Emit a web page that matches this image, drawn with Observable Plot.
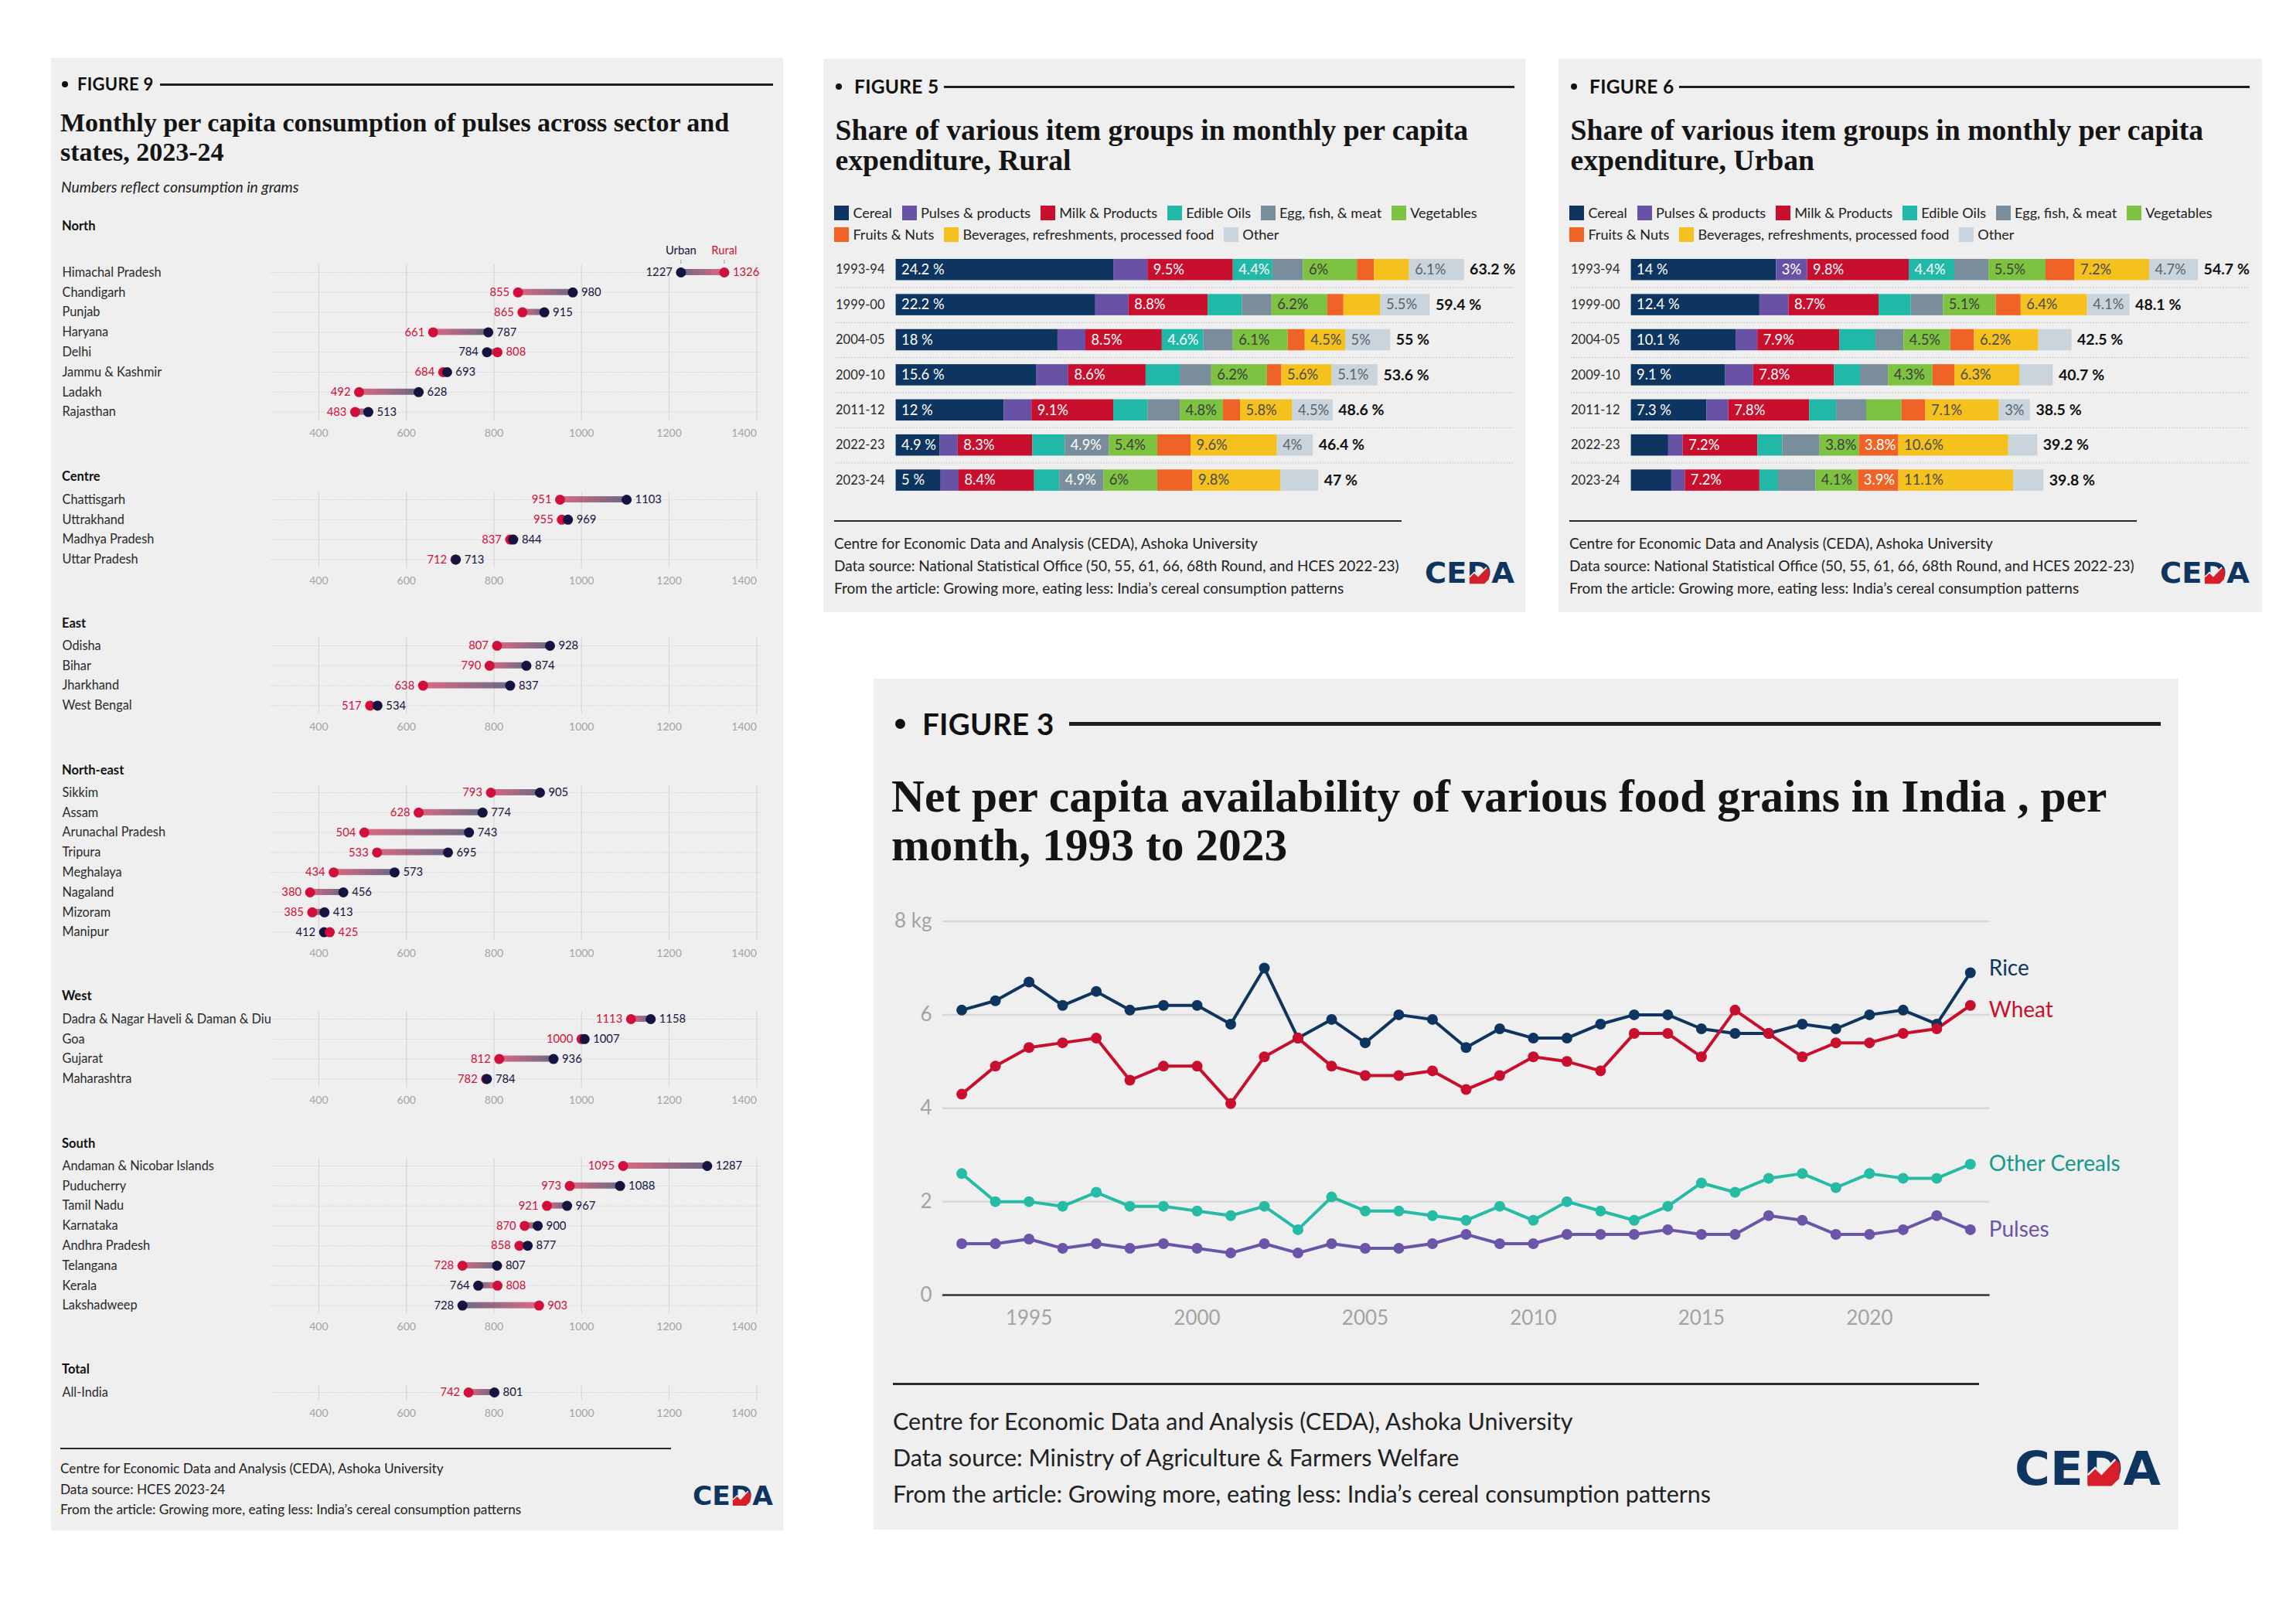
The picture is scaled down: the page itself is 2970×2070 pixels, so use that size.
<!DOCTYPE html>
<html><head><meta charset="utf-8">
<script src="https://cdn.jsdelivr.net/npm/d3@7"></script>
<script src="https://cdn.jsdelivr.net/npm/@observablehq/plot@0.6"></script>
<style>
html,body{margin:0;padding:0;background:#fff;}
body{position:relative;width:2970px;height:2070px;overflow:hidden;font-family:Lato,"Open Sans",sans-serif;color:#1a1a1a;}
.abs{position:absolute;white-space:nowrap;}
</style></head><body>
<svg width="0" height="0" style="position:absolute">
  <defs>
    <linearGradient id="gRU" x1="0" x2="1" y1="0" y2="0">
      <stop offset="0" stop-color="#d0103a" stop-opacity="0.6"/>
      <stop offset="1" stop-color="#15133f" stop-opacity="0.6"/>
    </linearGradient>
    <linearGradient id="gUR" x1="0" x2="1" y1="0" y2="0">
      <stop offset="0" stop-color="#15133f" stop-opacity="0.6"/>
      <stop offset="1" stop-color="#d0103a" stop-opacity="0.6"/>
    </linearGradient>
  </defs>
</svg>
<script>
// ---------------- DATA: Figure 9 (pulses, grams) ----------------
const regionNames = ["North","Centre","East","North-east","West","South","Total"];
const northStates = ["Himachal Pradesh","Chandigarh","Punjab","Haryana","Delhi","Jammu & Kashmir","Ladakh","Rajasthan"];
const northRural  = [1326,855,865,661,808,684,492,483];
const northUrban  = [1227,980,915,787,784,693,628,513];
const centreStates = ["Chattisgarh","Uttrakhand","Madhya Pradesh","Uttar Pradesh"];
const centreRural  = [951,955,837,712];
const centreUrban  = [1103,969,844,713];
const eastStates = ["Odisha","Bihar","Jharkhand","West Bengal"];
const eastRural  = [807,790,638,517];
const eastUrban  = [928,874,837,534];
const neStates = ["Sikkim","Assam","Arunachal Pradesh","Tripura","Meghalaya","Nagaland","Mizoram","Manipur"];
const neRural  = [793,628,504,533,434,380,385,425];
const neUrban  = [905,774,743,695,573,456,413,412];
const westStates = ["Dadra & Nagar Haveli & Daman & Diu","Goa","Gujarat","Maharashtra"];
const westRural  = [1113,1000,812,782];
const westUrban  = [1158,1007,936,784];
const southStates = ["Andaman & Nicobar Islands","Puducherry","Tamil Nadu","Karnataka","Andhra Pradesh","Telangana","Kerala","Lakshadweep"];
const southRural  = [1095,973,921,870,858,728,808,903];
const southUrban  = [1287,1088,967,900,877,807,764,728];
const totalStates = ["All-India"];
const totalRural  = [742];
const totalUrban  = [801];
const pulseTicks = [400,600,800,1000,1200,1400];

// ---------------- DATA: Figures 5 & 6 (share of MPCE, %) ----------------
const itemGroups = ["Cereal","Pulses & products","Milk & Products","Edible Oils","Egg, fish, & meat","Vegetables","Fruits & Nuts","Beverages, refreshments, processed food","Other"];
const rounds = ["1993-94","1999-00","2004-05","2009-10","2011-12","2022-23","2023-24"];
const ruralCereal = [24.2,22.2,18,15.6,12,4.9,5];
const ruralPulses = [3.8,3.7,3.1,3.6,3.1,2.0,2.0];
const ruralMilk   = [9.5,8.8,8.5,8.6,9.1,8.3,8.4];
const ruralOils   = [4.4,3.8,4.6,3.8,3.8,3.6,2.8];
const ruralEgg    = [3.4,3.3,3.3,3.5,3.6,4.9,4.9];
const ruralVeg    = [6,6.2,6.1,6.2,4.8,5.4,6];
const ruralFruits = [1.9,1.8,1.9,1.6,1.9,3.7,3.9];
const ruralBev    = [3.9,4.1,4.5,5.6,5.8,9.6,9.8];
const ruralOther  = [6.1,5.5,5,5.1,4.5,4,4.2];
const ruralTotal  = [63.2,59.4,55,53.6,48.6,46.4,47];
const urbanCereal = [14,12.4,10.1,9.1,7.3,3.6,3.9];
const urbanPulses = [3,2.8,2.1,2.7,2.1,1.4,1.3];
const urbanMilk   = [9.8,8.7,7.9,7.8,7.8,7.2,7.2];
const urbanOils   = [4.4,3.1,3.5,2.5,2.6,2.4,1.8];
const urbanEgg    = [3.3,3.1,2.7,2.7,2.9,3.6,3.6];
const urbanVeg    = [5.5,5.1,4.5,4.3,3.4,3.8,4.1];
const urbanFruits = [2.8,2.4,2.3,2.1,2.3,3.8,3.9];
const urbanBev    = [7.2,6.4,6.2,6.3,7.1,10.6,11.1];
const urbanOther  = [4.7,4.1,3.2,3.2,3,2.8,2.9];
const urbanTotal  = [54.7,48.1,42.5,40.7,38.5,39.2,39.8];

// ---------------- DATA: Figure 3 (kg per month) ----------------
const years = [1993,1994,1995,1996,1997,1998,1999,2000,2001,2002,2003,2004,2005,2006,2007,2008,2009,2010,2011,2012,2013,2014,2015,2016,2017,2018,2019,2020,2021,2022,2023];
const grainSeries = ["Rice","Wheat","Other Cereals","Pulses"];
const rice   = [6.1,6.3,6.7,6.2,6.5,6.1,6.2,6.2,5.8,7.0,5.5,5.9,5.4,6.0,5.9,5.3,5.7,5.5,5.5,5.8,6.0,6.0,5.7,5.6,5.6,5.8,5.7,6.0,6.1,5.8,6.9];
const wheat  = [4.3,4.9,5.3,5.4,5.5,4.6,4.9,4.9,4.1,5.1,5.5,4.9,4.7,4.7,4.8,4.4,4.7,5.1,5.0,4.8,5.6,5.6,5.1,6.1,5.6,5.1,5.4,5.4,5.6,5.7,6.2];
const otherCereals = [2.6,2.0,2.0,1.9,2.2,1.9,1.9,1.8,1.7,1.9,1.4,2.1,1.8,1.8,1.7,1.6,1.9,1.6,2.0,1.8,1.6,1.9,2.4,2.2,2.5,2.6,2.3,2.6,2.5,2.5,2.8];
const pulses = [1.1,1.1,1.2,1.0,1.1,1.0,1.1,1.0,0.9,1.1,0.9,1.1,1.0,1.0,1.1,1.3,1.1,1.1,1.3,1.3,1.3,1.4,1.3,1.3,1.7,1.6,1.3,1.3,1.4,1.7,1.4];

// ---------------- STYLE ----------------
const SANS = "Lato, 'Open Sans', sans-serif";
const SERIF = "'Liberation Serif', 'DejaVu Serif', serif";
const RED = "#d0103a", NAVY = "#15133f";
const SECTOR_COLOR = {Rural: RED, Urban: NAVY};
const ITEM_COLOR = ["#0e3560","#6852a6","#c8102e","#22b8a7","#7a8d9a","#7ec242","#ef6426","#f5c11e","#c9d4dc"];
const ITEM_TEXT  = ["#ffffff","#ffffff","#ffffff","#ffffff","#ffffff","#3d3d3d","#ffffff","#4a4a4a","#5b636b"];
const GRAIN_COLOR = {"Rice":"#0e3560","Wheat":"#c8102e","Other Cereals":"#25bba5","Pulses":"#6a55a8"};
const GRAIN_TEXT  = {"Rice":"#0e3560","Wheat":"#c8102e","Other Cereals":"#16988a","Pulses":"#6a55a8"};
const GRAIN_LABEL_DY = {"Rice": -5, "Wheat": 6, "Other Cereals": 0, "Pulses": 0};

const body = document.body;
function box(x, y, w, h, css = {}) {
  const d = document.createElement("div");
  d.style.cssText = `position:absolute;left:${x}px;top:${y}px;width:${w}px;height:${h}px;`;
  Object.assign(d.style, css); body.appendChild(d); return d;
}
function T(str, x, yc, fs, css = {}) {
  const d = document.createElement("div");
  d.className = "abs"; d.textContent = str;
  d.style.left = x + "px"; d.style.top = (yc - fs * 0.6) + "px";
  d.style.fontSize = fs + "px"; d.style.lineHeight = (fs * 1.2) + "px";
  Object.assign(d.style, css); body.appendChild(d); return d;
}
function place(svg, x, y) {
  const d = document.createElement("div");
  d.style.cssText = `position:absolute;left:${x}px;top:${y}px;`;
  d.appendChild(svg); body.appendChild(d);
}
function figHead(label, bx, tx, lx1, lx2, y, fs, dot, lw) {
  box(bx - dot / 2, y - dot / 2, dot, dot, {borderRadius: "50%", background: "#111"});
  T(label, tx, y, fs, {fontWeight: "700", color: "#111", letterSpacing: "0.3px"});
  box(lx1, y - lw / 2, lx2 - lx1, lw, {background: "#1e1e1e"});
}
function title(lines, x, y1, lh, fs) {
  lines.forEach((s, i) => T(s, x, y1 + i * lh, fs, {fontFamily: SERIF, fontWeight: "700", color: "#141414"}));
}
function logo(x, y, w, h) {
  const padT = h * 0.35, padB = h * 0.45;
  const d = document.createElement("div");
  d.style.cssText = `position:absolute;left:${x}px;top:${y - padT}px;width:${w}px;height:${h + padT + padB}px;`;
  d.innerHTML = `<svg width="${w}" height="${h + padT + padB}" viewBox="0 ${-30 * 0.35} 116 ${30 * 1.8}" preserveAspectRatio="none" style="overflow:visible">
    <text x="0" y="29" font-family="DejaVu Sans" font-weight="bold" font-size="39" textLength="116" lengthAdjust="spacingAndGlyphs" fill="#0e3560">CEDA</text>
    <polygon points="58,30 58,21 64,15 69,20 80,8 84,12 83,24 77,30" fill="#d71f2b"/>
    <polyline points="58,21 64,15 69,20 80,8" fill="none" stroke="#efefef" stroke-width="1.6"/>
  </svg>`;
  body.appendChild(d);
}
function footer(x, lineY, lineX2, lineW, lines, y0, dy, fs) {
  box(x, lineY - lineW / 2, lineX2 - x, lineW, {background: "#2a2a2a"});
  lines.forEach((s, i) => T(s, x, y0 + i * dy, fs, {color: "#222"}));
}
const FOOT = "From the article: Growing more, eating less: India\u2019s cereal consumption patterns";
const CEDA = "Centre for Economic Data and Analysis (CEDA), Ashoka University";

// ---------------- PANELS ----------------
box(66, 75, 947, 1905, {background: "#efefef"});
box(1065, 76, 908, 716, {background: "#efefef"});
box(2016, 76, 910, 716, {background: "#efefef"});
box(1130, 878, 1688, 1101, {background: "#efefef"});

// ================= FIGURE 9 =================
figHead("FIGURE 9", 84, 100, 207, 1000, 109, 22, 8, 3);
title(["Monthly per capita consumption of pulses across sector and", "states, 2023-24"], 78, 159, 38, 34);
T("Numbers reflect consumption in grams", 79, 242, 19.3, {fontStyle: "italic", color: "#222"});

function pulseSection(region, states, rural, urban, headY, firstY, withLegend) {
  T(region, 80, headY, 16.5, {fontWeight: "700", color: "#111"});
  const rows = states.map((s, i) => ({state: s, rural: rural[i], urban: urban[i]}));
  const pts = d3.sort(rows.flatMap(r => [
    {state: r.state, sector: "Rural", value: r.rural, lo: r.rural < r.urban},
    {state: r.state, sector: "Urban", value: r.urban, lo: r.urban < r.rural}
  ]), d => d.value);
  const n = states.length, R = 25.8, H = 45;
  const frameBottom = H + (n - 1) * R + 11;
  const height = frameBottom + 34;
  const mL = 283.6;
  const legendPts = withLegend ? pts.filter(d => d.state === states[0]) : [];
  const lastTick = pulseTicks[pulseTicks.length - 1];
  const svg = Plot.plot({
    width: 940, height, marginLeft: mL, marginRight: 22, marginTop: H - 10, marginBottom: height - frameBottom,
    x: {domain: [290, 1410]},
    y: {type: "band", domain: states, range: [H - R / 2, H - R / 2 + n * R], padding: 0, round: false, axis: null},
    color: {type: "identity"},
    style: {background: "none", fontFamily: SANS, overflow: "visible"},
    marks: [
      Plot.ruleY(states, {y: d => d, stroke: "#c4c4c4", strokeWidth: 1, strokeDasharray: "1,2"}),
      Plot.ruleX(pulseTicks, {stroke: "#d9d9d9", strokeWidth: 1.3}),
      Plot.axisX({ticks: pulseTicks.slice(0, -1), tickFormat: d => String(d), tickSize: 0, tickPadding: 11, fontSize: 14, color: "#a3a3a3", label: null}),
      Plot.axisX({ticks: [lastTick], tickFormat: d => String(d), tickSize: 0, tickPadding: 11, fontSize: 14, color: "#a3a3a3", textAnchor: "end", label: null}),
      Plot.text(states, {y: d => d, text: d => d, frameAnchor: "left", textAnchor: "start", dx: 80 - 66 - mL, fontSize: 16.3, fill: "#2a2a2a"}),
      Plot.barX(rows.filter(d => d.rural <= d.urban), {x1: "rural", x2: "urban", y: "state", fill: "url(#gRU)", insetTop: 8.9, insetBottom: 8.9}),
      Plot.barX(rows.filter(d => d.rural > d.urban), {x1: "urban", x2: "rural", y: "state", fill: "url(#gUR)", insetTop: 8.9, insetBottom: 8.9}),
      Plot.dot(pts, {x: "value", y: "state", r: 6.5, fill: d => SECTOR_COLOR[d.sector]}),
      Plot.text(pts.filter(d => d.lo), {x: "value", y: "state", text: d => String(d.value), textAnchor: "end", dx: -11, fill: d => SECTOR_COLOR[d.sector], fontSize: 14.8}),
      Plot.text(pts.filter(d => !d.lo), {x: "value", y: "state", text: d => String(d.value), textAnchor: "start", dx: 11, fill: d => SECTOR_COLOR[d.sector], fontSize: 14.8}),
      Plot.text(legendPts, {x: "value", y: "state", text: "sector", dy: -28, fill: d => SECTOR_COLOR[d.sector], fontSize: 14.8}),
      Plot.tickX(legendPts, {x: "value", y: "state", stroke: "#a8a8a8", strokeWidth: 1.2, insetTop: -3.1, insetBottom: 23.9})
    ]
  });
  place(svg, 66, firstY - H);
}
pulseSection(regionNames[0], northStates, northRural, northUrban, 293, 352, true);
pulseSection(regionNames[1], centreStates, centreRural, centreUrban, 617, 646, false);
pulseSection(regionNames[2], eastStates, eastRural, eastUrban, 806.5, 835, false);
pulseSection(regionNames[3], neStates, neRural, neUrban, 997, 1025, false);
pulseSection(regionNames[4], westStates, westRural, westUrban, 1289, 1318, false);
pulseSection(regionNames[5], southStates, southRural, southUrban, 1480, 1508, false);
pulseSection(regionNames[6], totalStates, totalRural, totalUrban, 1772, 1801, false);
footer(78, 1874, 868, 1.6, [CEDA, "Data source: HCES 2023-24", FOOT], 1900.6, 26.3, 17.2);
logo(896, 1922, 104, 26);

// ================= FIGURES 5 & 6 =================
const canvas = document.createElement("canvas");
const ctx = canvas.getContext("2d");
function textW(s, fs) { ctx.font = `${fs}px Lato, 'Open Sans', sans-serif`; return ctx.measureText(s).width; }

function shareChart(px, figLabel, titleLines, series, totals, k, xMax, svgW) {
  figHead(figLabel, px + 19.6, px + 40, px + 156, px + 894, 112, 24.5, 8, 3);
  title(titleLines, px + 15.5, 168.6, 39.5, 37.7);
  const legendRows = [itemGroups.slice(0, 6), itemGroups.slice(6)];
  legendRows.forEach((row, r) => {
    const wrap = document.createElement("div");
    wrap.className = "abs";
    wrap.style.cssText += `left:${px + 14.4}px;top:${275 + r * 28 - 11}px;display:flex;align-items:center;font-size:18.1px;line-height:22px;color:#222;`;
    row.forEach(name => {
      const i = itemGroups.indexOf(name);
      const it = document.createElement("span");
      it.style.cssText = "display:inline-flex;align-items:center;margin-right:13px;";
      it.innerHTML = `<span style="display:inline-block;width:19px;height:19px;background:${ITEM_COLOR[i]};margin-right:5px"></span>`;
      it.appendChild(document.createTextNode(name));
      wrap.appendChild(it);
    });
    body.appendChild(wrap);
  });
  const long = rounds.flatMap((rd, j) => itemGroups.map((g, i) => ({round: rd, cat: i, value: series[i][j]})));
  const totalRows = rounds.map((rd, j) => ({round: rd, total: totals[j]}));
  const mL = 93.6, mR = svgW - mL - xMax * k;
  const ROW = 45.4, top = 348.6 - ROW / 2;
  const label = d => d.cat === 0 ? `${d.value} %` : `${d.value}%`;
  const fits = d => textW(label(d), 17) + 11.5 <= d.value * k;
  const sepEnd = 892;
  const svg = Plot.plot({
    width: svgW, height: rounds.length * ROW, marginLeft: mL, marginRight: mR, marginTop: 0, marginBottom: 0,
    x: {domain: [0, xMax], axis: null},
    y: {type: "band", domain: rounds, padding: 0, round: false, axis: null},
    color: {type: "identity"},
    style: {background: "none", fontFamily: SANS, overflow: "visible"},
    marks: [
      Plot.ruleY(rounds.slice(1), {y: d => d, dy: -ROW / 2, stroke: "#c6c6c6", strokeWidth: 1.2, strokeDasharray: "1.5,2", insetLeft: 15.5 - mL, insetRight: (svgW - mR) - sepEnd}),
      Plot.text(rounds, {y: d => d, text: d => d, frameAnchor: "left", textAnchor: "start", dx: 15.5 - mL, fontSize: 16.5, fill: "#2a2a2a"}),
      Plot.barX(long, Plot.stackX({x: "value", y: "round", z: "cat", fill: d => ITEM_COLOR[d.cat], insetTop: 8.95, insetBottom: 8.95})),
      Plot.text(long, Plot.stackX1({x: "value", y: "round", z: "cat", text: d => fits(d) ? label(d) : "", fill: d => ITEM_TEXT[d.cat], textAnchor: "start", dx: 7, fontSize: 18.3})),
      Plot.text(totalRows, {x: "total", y: "round", text: d => `${d.total} %`, textAnchor: "start", dx: 7, fontSize: 19.5, fontWeight: 700, fill: "#111"})
    ]
  });
  place(svg, px, top);
  footer(px + 14, 673.6, px + 747.7, 2, [CEDA, "Data source: National Statistical Office (50, 55, 61, 66, 68th Round, and HCES 2022-23)", FOOT], 703.4, 29.2, 19.0);
  logo(px + 778, 726, 116, 29);
}
shareChart(1065, "FIGURE 5", ["Share of various item groups in monthly per capita", "expenditure, Rural"],
  [ruralCereal, ruralPulses, ruralMilk, ruralOils, ruralEgg, ruralVeg, ruralFruits, ruralBev, ruralOther], ruralTotal, 11.63, 70, 908);
shareChart(2016, "FIGURE 6", ["Share of various item groups in monthly per capita", "expenditure, Urban"],
  [urbanCereal, urbanPulses, urbanMilk, urbanOils, urbanEgg, urbanVeg, urbanFruits, urbanBev, urbanOther], urbanTotal, 13.41, 60, 910);

// ================= FIGURE 3 =================
figHead("FIGURE 3", 1164, 1193, 1383, 2795, 936, 38.5, 13, 5);
title(["Net per capita availability of various food grains in India , per", "month, 1993 to 2023"], 1153, 1031, 63, 59.5);
const grainArrays = [rice, wheat, otherCereals, pulses];
const grainLong = grainSeries.flatMap((s, i) => years.map((yr, j) => ({series: s, year: yr, value: grainArrays[i][j]})));
const f3 = Plot.plot({
  width: 1687, height: 600, marginLeft: 88, marginRight: 244.4, marginTop: 31.5, marginBottom: 85,
  x: {domain: [1993, 2023], insetLeft: 24.6, insetRight: 25.3, axis: null},
  y: {domain: [0, 8], axis: null},
  color: {type: "identity"},
  style: {background: "none", fontFamily: SANS, overflow: "visible"},
  marks: [
    Plot.ruleY([2, 4, 6, 8], {stroke: "#d8d8d8", strokeWidth: 2.5}),
    Plot.ruleY([0], {stroke: "#333", strokeWidth: 2.5}),
    Plot.axisX({ticks: [1995, 2000, 2005, 2010, 2015, 2020], tickFormat: d => String(d), tickSize: 0, tickPadding: 20, fontSize: 26, color: "#a3a3a3", label: null}),
    Plot.axisY({ticks: [0, 2, 4, 6, 8], tickFormat: d => d === 8 ? "8 kg" : String(d), tickSize: 0, tickPadding: 14, fontSize: 26, color: "#a3a3a3", label: null}),
    Plot.line(grainLong, {x: "year", y: "value", z: "series", stroke: d => GRAIN_COLOR[d.series], strokeWidth: 4}),
    Plot.dot(grainLong, {x: "year", y: "value", r: 7, fill: d => GRAIN_COLOR[d.series]}),
    ...grainSeries.map(s => Plot.text(grainLong.filter(d => d.series === s), Plot.selectLast({x: "year", y: "value", text: "series", fill: d => GRAIN_TEXT[d.series], textAnchor: "start", dx: 24, dy: GRAIN_LABEL_DY[s], fontSize: 28})))
  ]
});
place(f3, 1131, 1160);
footer(1155, 1790.6, 2560, 3, [CEDA, "Data source: Ministry of Agriculture & Farmers Welfare", FOOT], 1838, 47, 30.5);
logo(2606, 1875, 189, 47);
</script>
</body></html>
